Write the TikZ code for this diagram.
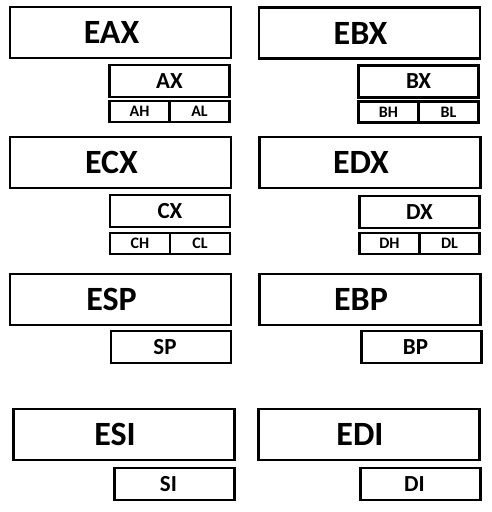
\documentclass[tikz,border=0pt]{standalone}
\usepackage{fontspec}
\setmainfont{Carlito}
\usetikzlibrary{positioning}

\begin{document}
\begin{tikzpicture}[x=1pt, y=-1pt, line width=2.3pt, node distance=7pt, font=\bfseries]
        \tikzstyle{reg32} = [rectangle, draw=black, fill=white, outer sep=0pt, inner sep=0pt,
                            minimum width=221pt, minimum height=51pt, font=\fontsize{34}{36}\bfseries\selectfont,
                            execute at end node={\hspace*{18pt}}]
        \tikzstyle{reg16} = [rectangle, draw=black, fill=white, outer sep=0pt, inner sep=0pt,
                            minimum width=120pt, minimum height=32pt, font=\fontsize{23}{25}\bfseries\selectfont]
        \tikzstyle{ptr16} = [reg16, execute at end node={\hspace*{12pt}}]
        \tikzstyle{reg8} = [rectangle, draw=black, fill=white, outer sep=0pt, inner sep=0pt,
                            minimum width=60pt, minimum height=21pt, font=\fontsize{16}{18}\bfseries\selectfont]

        % cadre
        \useasboundingbox (0,0) rectangle (491,512);

        % Registres 32 bits
        \node[reg32] (eax) at (120.5,32.5) {EAX};
        \node[reg32] (ebx) at (369.5,33) {EBX};
        \node[reg32] (ecx) at (120.5,162.5) {ECX};
        \node[reg32] (edx) at (370,162.5) {EDX};
        \node[reg32] (esp) at (120.5,299.5) {ESP};
        \node[reg32] (ebp) at (370,299.5) {EBP};
        \node[reg32] (esi) at (124,434.5) {ESI};
        \node[reg32] (edi) at (369,434.5) {EDI};

        % Registres 16 bits
        \node[reg16, below left=7pt and 1.5pt of eax.south east] (ax) {AX};
        \node[reg16, below left=7pt and 1.5pt of ebx.south east] (bx) {BX};
        \node[reg16, below left=7pt and 1pt of ecx.south east] (cx) {CX};
        \node[reg16, below left=8pt and 1pt of edx.south east] (dx) {DX};
        \node[ptr16, below left=6pt and 0pt of esp.south east] (sp) {SP};
        \node[ptr16, below left=6pt and -1pt of ebp.south east] (bp) {BP};
        \node[ptr16, below left=8pt and 0pt of esi.south east] (si) {SI};
        \node[ptr16, below left=8pt and -1pt of edi.south east] (di) {DI};

        % Registres 8 bits
        \node[reg8, below right=4pt and 0pt of ax.south west] (ah) {AH};
        \node[reg8, right=0pt of ah] (al) {AL};
        \node[reg8, below right=4pt and 0pt of bx.south west] (bh) {BH};
        \node[reg8, right=0pt of bh] (bl) {BL};
        \node[reg8, below right=6pt and 0pt of cx.south west] (ch) {CH};
        \node[reg8, right=0pt of ch] (cl) {CL};
        \node[reg8, below right=5pt and 0pt of dx.south west] (dh) {DH};
        \node[reg8, right=0pt of dh] (dl) {DL};
    \end{tikzpicture}
\end{document}
